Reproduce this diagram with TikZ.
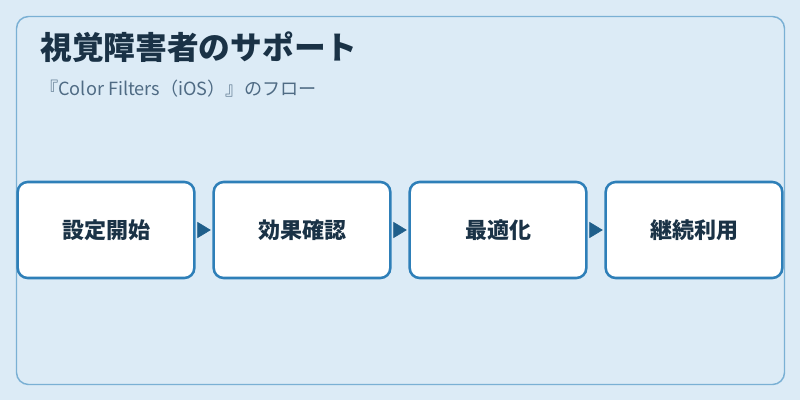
\documentclass[tikz,border=0pt]{standalone}
\usepackage{fontspec}
\newfontfamily\jpfont{Noto Sans CJK JP}
\usetikzlibrary{arrows.meta}
\definecolor{bgblue}{HTML}{DCEBF6}
\definecolor{frameblue}{HTML}{7AB0D4}
\definecolor{boxblue}{HTML}{2E7FB8}
\definecolor{arrowblue}{HTML}{1F5F8B}
\definecolor{titlenavy}{HTML}{1A3246}
\definecolor{subgrey}{HTML}{4F6B84}

\begin{document}
\begin{tikzpicture}[x=0.75pt,y=-0.75pt]
\tikzstyle{every node}+=[inner sep=0pt]
\tikzstyle{flowbox}=[draw=boxblue, line width=1.9pt, fill=white, rounded corners=7.5pt,
  minimum width=132.5pt, minimum height=72pt, font=\jpfont\bfseries\fontsize{16.5}{19}\selectfont, text=titlenavy]
\tikzstyle{flowarrow}=[arrowblue, line width=0.4pt, shorten <=1.5pt, shorten >=1.2pt,
  -{Triangle[length=10pt,width=12pt]}]
% background and frame
\useasboundingbox (0,0) rectangle (800,400);
\fill [bgblue] (0,0) rectangle (800,400);
\draw [frameblue, line width=1.1pt, rounded corners=9pt] (16.5,16.5) rectangle (784.5,384.5);
% titles
\node [anchor=west, text=titlenavy, font=\jpfont\bfseries\fontsize{23.8}{28}\selectfont] (title) at (40,47) {視覚障害者のサポート};
\node [anchor=west, text=subgrey, font=\jpfont\fontsize{13.6}{16}\selectfont] (subtitle) at (40,89) {『Color Filters（iOS）』のフロー};
% steps
\node [flowbox] (start) at (106,230) {設定開始};
\node [flowbox] (check) at (302,230) {効果確認};
\node [flowbox] (optim) at (498,230) {最適化};
\node [flowbox] (keep) at (694,230) {継続利用};
\draw [flowarrow] (start.east) -- (check.west);
\draw [flowarrow] (check.east) -- (optim.west);
\draw [flowarrow] (optim.east) -- (keep.west);
\end{tikzpicture}
\end{document}
